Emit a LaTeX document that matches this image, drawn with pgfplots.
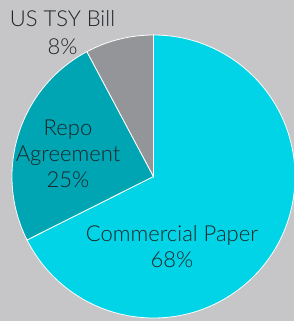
\documentclass[border=0pt]{standalone}
\usepackage{pgfplots}
\pgfplotsset{compat=1.18}
\usepackage{pgfplotstable}
\usepackage{fontspec}
\setmainfont{Lato}[UprightFont=* Light]
\definecolor{bg}{HTML}{C6C6C8}
\definecolor{cp}{HTML}{00D4E6}
\definecolor{repo}{HTML}{00A5B3}
\definecolor{tsy}{HTML}{939598}
\definecolor{txt}{HTML}{1E2426}
\pgfplotstableread{
label value
CP 67.6
Repo 24.6
TSY 7.8
}\piedata
\begin{document}
\begin{tikzpicture}
\pgfplotstablegetelem{0}{value}\of\piedata \let\va\pgfplotsretval
\pgfplotstablegetelem{1}{value}\of\piedata \let\vb\pgfplotsretval
\pgfplotstablegetelem{2}{value}\of\piedata \let\vc\pgfplotsretval
\pgfmathsetmacro\aA{90}
\pgfmathsetmacro\aB{90-3.6*\va}
\pgfmathsetmacro\aC{\aB-3.6*\vb}
\pgfmathsetmacro\aD{\aC-3.6*\vc}
\begin{axis}[x=1bp,y=1bp,xmin=0,xmax=294,ymin=0,ymax=321,
  axis lines=none, ticks=none, clip=true]
\fill[bg] (axis cs:0,0) rectangle (axis cs:294,321);
\fill[cp, draw=white, line width=0.8pt] (axis cs:153.5,144.5) -- ++(\aA:141.5bp) arc[start angle=\aA, end angle=\aB, radius=141.5bp] -- cycle;
\fill[repo, draw=white, line width=0.8pt] (axis cs:153.5,144.5) -- ++(\aB:141.5bp) arc[start angle=\aB, end angle=\aC, radius=141.5bp] -- cycle;
\fill[tsy, draw=white, line width=0.8pt] (axis cs:153.5,144.5) -- ++(\aC:141.5bp) arc[start angle=\aC, end angle=\aD, radius=141.5bp] -- cycle;
\node[align=center, text=txt, font=\fontsize{22bp}{28bp}\selectfont] at (axis cs:62.5,288) {US TSY Bill\\8\%};
\node[align=center, text=txt, font=\fontsize{22bp}{26bp}\selectfont] at (axis cs:68,167) {Repo\\Agreement\\25\%};
\node[align=center, text=txt, font=\fontsize{22bp}{26bp}\selectfont] at (axis cs:172,74) {Commercial Paper\\68\%};
\end{axis}
\end{tikzpicture}
\end{document}
